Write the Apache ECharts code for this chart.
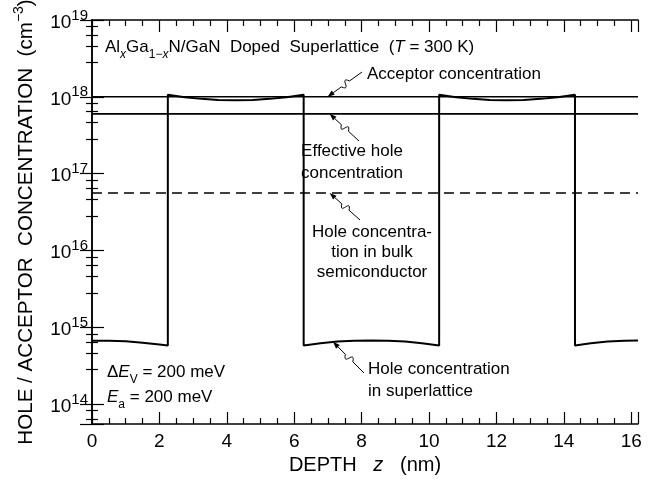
<!DOCTYPE html>
<html><head><meta charset="utf-8">
<script src="https://cdn.jsdelivr.net/npm/echarts@6/dist/echarts.min.js"></script>
<style>html,body{margin:0;padding:0;background:#fff}#c{width:660px;height:483px}</style>
</head><body><div id="c"></div>
<script>
// ---- data ----
const depth = [0, 0.5, 1.0, 1.5, 2.0, 2.25, 2.25, 2.75, 3.25, 3.75, 4.27, 4.77, 5.27, 5.77, 6.28,
  6.28, 6.78, 7.28, 7.78, 8.29, 8.79, 9.29, 9.79, 10.3,
  10.3, 10.8, 11.3, 11.8, 12.31, 12.81, 13.31, 13.81, 14.33,
  14.33, 14.8, 15.3, 15.8, 16.2];
const holeSuperlattice = [6.68e14, 6.68e14, 6.56e14, 6.3e14, 5.95e14, 5.77e14,
  1.06e18, 0.99e18, 0.94e18, 0.91e18, 0.90e18, 0.91e18, 0.94e18, 0.99e18, 1.06e18,
  5.77e14, 6.2e14, 6.5e14, 6.65e14, 6.7e14, 6.65e14, 6.5e14, 6.2e14, 5.77e14,
  1.06e18, 0.99e18, 0.94e18, 0.91e18, 0.90e18, 0.91e18, 0.94e18, 0.99e18, 1.06e18,
  5.77e14, 6.2e14, 6.5e14, 6.65e14, 6.7e14];
const flatDepth = [0, 16.2];
const acceptorConc = [1e18, 1e18];
const effectiveHole = [6e17, 6e17];
const bulkHole = [5.6e16, 5.6e16];
const xTickLabels = ['0', '2', '4', '6', '8', '10', '12', '14', '16'];
const yTickExponents = [14, 15, 16, 17, 18, 19];

const FONT = '"Liberation Sans", Arial, Helvetica, sans-serif';
const zip = (xs, ys) => xs.map((x, i) => [x, ys[i]]);

const chart = echarts.init(document.getElementById('c'), null, {renderer: 'canvas'});

const tickRich = {
  b: {fontSize: 19, fontFamily: FONT, color: '#000', lineHeight: 24, verticalAlign: 'bottom'},
  s: {fontSize: 15, fontFamily: FONT, color: '#000', lineHeight: 15, verticalAlign: 'top'}
};
const black = {color: '#000', width: 1.5};

const xBase = {
  type: 'value', min: 0, max: 16.2, interval: 2,
  axisLine: {show: true, lineStyle: black},
  axisTick: {show: true, inside: true, length: 12, lineStyle: {color: '#000', width: 1.2}},
  minorTick: {show: true, splitNumber: 4, length: 6, lineStyle: {color: '#000', width: 1.2}},
  splitLine: {show: false}
};
const yBase = {
  type: 'log', logBase: 10, min: Math.pow(10, 13.74), max: 1e19,
  axisLine: {show: true, lineStyle: black},
  axisTick: {show: true, inside: true, length: 12, lineStyle: {color: '#000', width: 1.2}},
  minorTick: {show: true, splitNumber: 5, length: 6, lineStyle: {color: '#000', width: 1.2}},
  splitLine: {show: false}
};

chart.setOption({
  animation: false,
  backgroundColor: '#fff',
  grid: {left: 92, right: 22, top: 20, bottom: 59, containLabel: false, outerBoundsMode: 'none'},
  xAxis: [
    Object.assign({}, xBase, {
      position: 'bottom',
      axisLabel: {
        show: true, showMaxLabel: false, margin: 8,
        fontSize: 19, fontFamily: FONT, color: '#000',
        formatter: v => { const i = Math.round(v / 2); return Math.abs(v - i * 2) < 1e-6 ? xTickLabels[i] : ''; }
      },
      name: '{n|DEPTH   }{i|z}{n|   (nm)}',
      nameLocation: 'middle', nameGap: 30,
      nameTextStyle: {
        rich: {
          n: {fontSize: 20, fontFamily: FONT, color: '#000'},
          i: {fontSize: 20, fontFamily: FONT, color: '#000', fontStyle: 'italic'}
        }
      }
    }),
    Object.assign({}, xBase, {position: 'top', axisLabel: {show: false}})
  ],
  yAxis: [
    Object.assign({}, yBase, {
      position: 'left',
      axisLabel: {
        show: true, showMinLabel: false, margin: 4,
        formatter: v => '{b|10}{s|' + Math.round(Math.log10(v)) + '}',
        rich: tickRich
      },
      name: '{n|HOLE / ACCEPTOR  CONCENTRATION  (cm}{s|−3}{n|)}',
      nameLocation: 'middle', nameRotate: 90, nameGap: 55,
      nameTextStyle: {
        rich: {
          n: {fontSize: 20.6, fontFamily: FONT, color: '#000', lineHeight: 25, verticalAlign: 'bottom'},
          s: {fontSize: 14, fontFamily: FONT, color: '#000', lineHeight: 14, verticalAlign: 'top'}
        }
      }
    }),
    Object.assign({}, yBase, {position: 'right', axisLabel: {show: false}})
  ],
  series: [
    {type: 'line', name: 'Hole concentration in superlattice', data: zip(depth, holeSuperlattice),
      showSymbol: false, symbol: 'none', lineStyle: {color: '#000', width: 2}, z: 5},
    {type: 'line', name: 'Acceptor concentration', data: zip(flatDepth, acceptorConc),
      showSymbol: false, symbol: 'none', lineStyle: {color: '#000', width: 1.4}},
    {type: 'line', name: 'Effective hole concentration', data: zip(flatDepth, effectiveHole),
      showSymbol: false, symbol: 'none', lineStyle: {color: '#000', width: 1.6}},
    {type: 'line', name: 'Hole concentration in bulk', data: zip(flatDepth, bulkHole),
      showSymbol: false, symbol: 'none', lineStyle: {color: '#000', width: 1.4, type: [10, 6]}}
  ]
});

// ---- annotations ----
function squiggle(S, T) {
  const dx = T[0] - S[0], dy = T[1] - S[1], L = Math.hypot(dx, dy);
  const ux = dx / L, uy = dy / L, nx = -uy, ny = ux;
  const P = (t, o) => [S[0] + ux * L * t + nx * o, S[1] + uy * L * t + ny * o];
  const p1 = P(0.36, 0), p2 = P(0.6, 0), c1 = P(0.52, 11), c2 = P(0.44, -11);
  const ah = 7, aw = 2.6;
  const base = [T[0] - ux * ah, T[1] - uy * ah];
  const st = {stroke: '#000', lineWidth: 1, fill: null};
  return [
    {type: 'polyline', shape: {points: [S, p1]}, style: st, silent: true},
    {type: 'bezierCurve', shape: {x1: p1[0], y1: p1[1], cpx1: c1[0], cpy1: c1[1], cpx2: c2[0], cpy2: c2[1], x2: p2[0], y2: p2[1]}, style: st, silent: true},
    {type: 'polyline', shape: {points: [p2, base]}, style: st, silent: true},
    {type: 'polygon', shape: {points: [T, [base[0] + nx * aw, base[1] + ny * aw], [base[0] - nx * aw, base[1] - ny * aw]]}, style: {fill: '#000'}, silent: true}
  ];
}
const px = (x, y) => chart.convertToPixel({xAxisIndex: 0, yAxisIndex: 0}, [x, y]);

const annRich = {
  n: {fontSize: 17, fontFamily: FONT, color: '#000', lineHeight: 22, verticalAlign: 'top'},
  m: {fontSize: 17, fontFamily: FONT, color: '#000', lineHeight: 20, verticalAlign: 'top'},
  i: {fontSize: 17, fontFamily: FONT, color: '#000', fontStyle: 'italic', lineHeight: 22, verticalAlign: 'top'},
  sub: {fontSize: 12, fontFamily: FONT, color: '#000', lineHeight: 12, padding: [12, 0, 0, 0], verticalAlign: 'bottom'},
  subi: {fontSize: 12, fontFamily: FONT, color: '#000', fontStyle: 'italic', lineHeight: 12, padding: [12, 0, 0, 0], verticalAlign: 'bottom'}
};
function txt(x, y, text, align) {
  return {type: 'text', x: x, y: y, silent: true,
    style: {text: text, rich: annRich, fontSize: 17, fontFamily: FONT, fill: '#000',
      align: align || 'left', verticalAlign: 'middle'}};
}

const g = [];
g.push(txt(105, 50, '{n|Al}{subi|x}{n|Ga}{sub|1−}{subi|x}{n|N/GaN  Doped  Superlattice  (}{i|T}{n| = 300 K)}'));
g.push(txt(367, 77, '{n|Acceptor concentration}'));
g.push(txt(352, 165, '{n|Effective hole}\n{n|concentration}', 'center'));
g.push(txt(372, 254, '{m|Hole concentra-}\n{m|tion in bulk}\n{m|semiconductor}', 'center'));
g.push(txt(368, 383, '{n|Hole concentration}\n{n|in superlattice}'));
g.push(txt(107, 375, '{n|Δ}{i|E}{sub|V}{n| = 200 meV}'));
g.push(txt(107, 400, '{i|E}{sub|a}{n| = 200 meV}'));

squiggle([362, 72], px(6.99, acceptorConc[0])).forEach(e => g.push(e));
squiggle([359, 141], px(7.05, effectiveHole[0])).forEach(e => g.push(e));
squiggle([360, 220], px(7.05, bulkHole[0])).forEach(e => g.push(e));
squiggle([364, 373], px(7.15, 6.45e14)).forEach(e => g.push(e));

chart.setOption({graphic: g});
</script>
</body></html>
